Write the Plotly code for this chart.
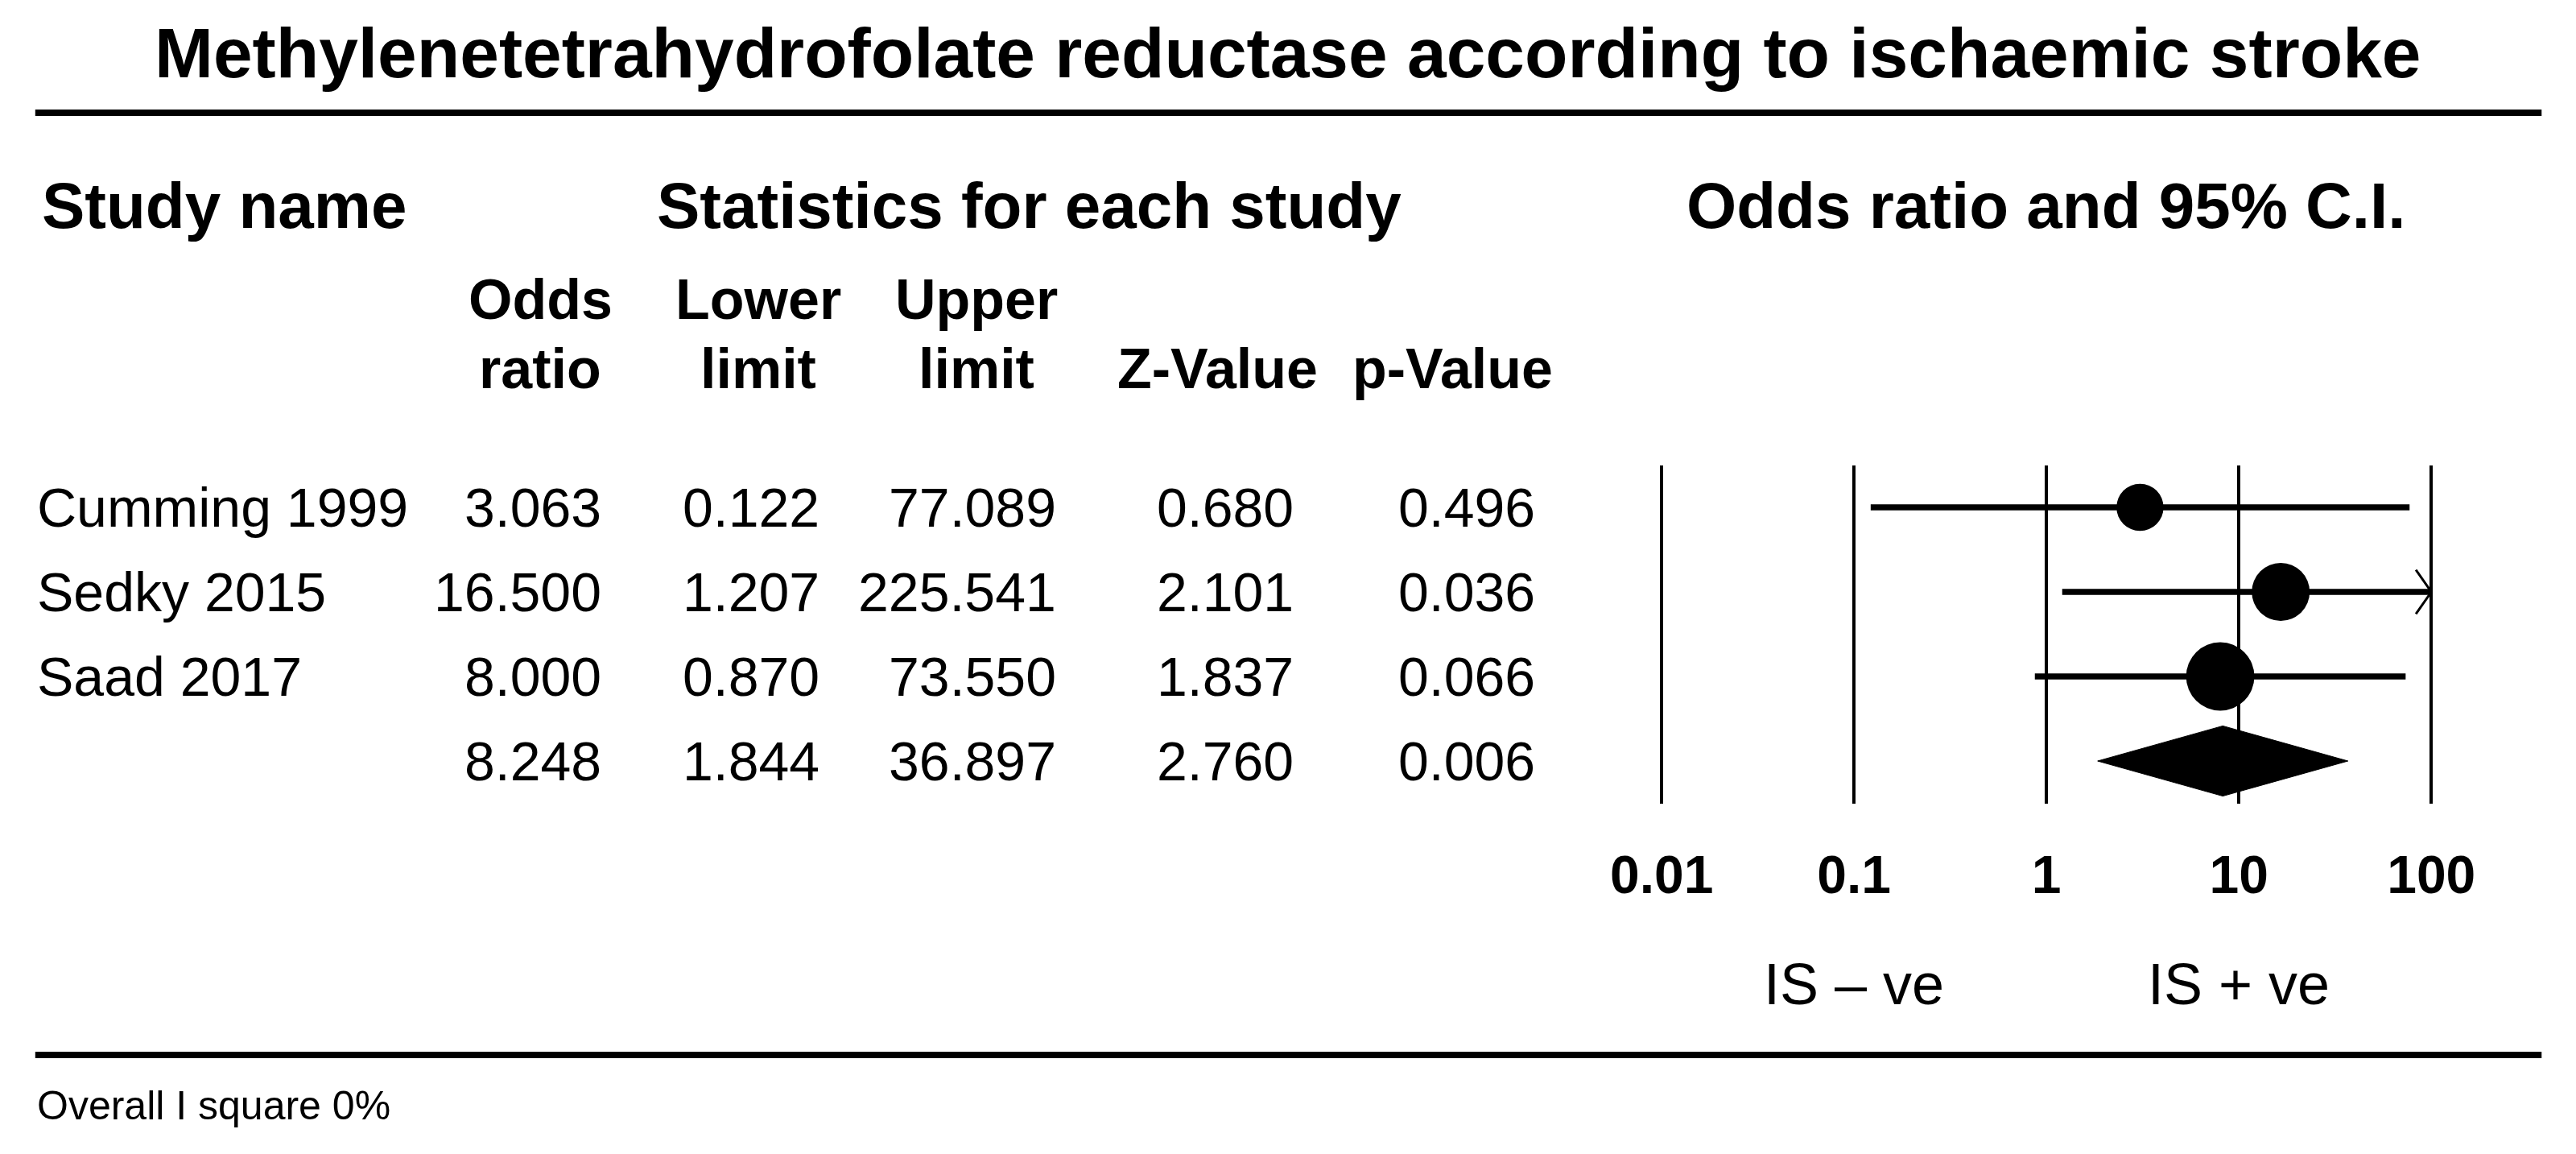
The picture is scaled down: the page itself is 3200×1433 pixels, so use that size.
import math
import plotly.graph_objects as go

# ---------------- data ----------------
title_text = "Methylenetetrahydrofolate reductase according to ischaemic stroke"
studies = ["Cumming 1999", "Sedky 2015", "Saad 2017"]
odds_ratio = [3.063, 16.500, 8.000]
lower_limit = [0.122, 1.207, 0.870]
upper_limit = [77.089, 225.541, 73.550]
z_values = [0.680, 2.101, 1.837]
p_values = [0.496, 0.036, 0.066]

pooled_or = 8.248
pooled_lower = 1.844
pooled_upper = 36.897
pooled_z = 2.760
pooled_p = 0.006

tick_vals = [0.01, 0.1, 1, 10, 100]
tick_text = ["0.01", "0.1", "1", "10", "100"]
favours_labels = ["IS \u2013 ve", "IS + ve"]
favours_at = [0.1, 10]
footnote = "Overall I square 0%"

section_headers = ["Study name", "Statistics for each study", "Odds ratio and 95% C.I."]
col_head_top = ["Odds", "Lower", "Upper", "", ""]
col_head_bottom = ["ratio", "limit", "limit", "Z-Value", "p-Value"]

# ---------------- layout helpers ----------------
W, H = 3200, 1433
FONT = "Liberation Sans"


def px(x):
    return x / W


def py(y):
    return 1 - y / H


x_lo_log, x_hi_log = -2.2, 2.2
dec_px = 240.75
x_left_px = 2063 - (-2 - x_lo_log) * dec_px
x_right_px = 3026 + (x_hi_log - 2) * dec_px
row_top_px, row_bottom_px = 577.5, 997.5

fig = go.Figure()

# per-study weights (inverse variance) -> marker size
weights = []
for lo, up in zip(lower_limit, upper_limit):
    se = (math.log(up) - math.log(lo)) / (2 * 1.96)
    weights.append(1 / se ** 2)
sizes = [96 * math.sqrt(w) for w in weights]

x_max = tick_vals[-1]
for i, (o, lo, up) in enumerate(zip(odds_ratio, lower_limit, upper_limit)):
    fig.add_trace(go.Scatter(x=[lo, min(up, x_max)], y=[i, i], mode="lines",
                             line=dict(color="black", width=7.5), hoverinfo="skip",
                             showlegend=False))
    if up > x_max:
        back = 10 ** (math.log10(x_max) - 0.08)
        fig.add_trace(go.Scatter(x=[back, x_max, back], y=[i - 0.26, i, i + 0.26],
                                 mode="lines", line=dict(color="black", width=3),
                                 hoverinfo="skip", showlegend=False))

fig.add_trace(go.Scatter(x=odds_ratio, y=list(range(len(studies))), mode="markers",
                         marker=dict(color="black", size=sizes, symbol="circle",
                                     opacity=1, line=dict(width=0)),
                         opacity=1, cliponaxis=False, showlegend=False, hoverinfo="skip"))

# pooled diamond
pr = len(studies)
h = 0.415
fig.add_trace(go.Scatter(x=[pooled_lower, pooled_or, pooled_upper, pooled_or, pooled_lower],
                         y=[pr, pr - h, pr, pr + h, pr], mode="lines", fill="toself",
                         fillcolor="black", line=dict(color="black", width=1),
                         showlegend=False, hoverinfo="skip"))

annotations = []


def add_text(text, x, y, size, bold=False, xanchor="left", yref="paper"):
    annotations.append(dict(text=text, x=x, y=y, xref="paper", yref=yref,
                            xanchor=xanchor, yanchor="middle", showarrow=False,
                            font=dict(family=FONT, size=size, color="black",
                                      weight="bold" if bold else "normal")))


# title
add_text(title_text, px(1595), py(66), 87.5, bold=True, xanchor="center")
# section headers
add_text(section_headers[0], px(34), py(256), 80, bold=True)
add_text(section_headers[1], px(804), py(256), 80, bold=True)
add_text(section_headers[2], px(2544), py(256), 80, bold=True, xanchor="center")

# column headers
col_centers = [660, 933, 1206, 1507, 1801]
for c, t1, t2 in zip(col_centers, col_head_top, col_head_bottom):
    if t1:
        add_text(t1, px(c), py(372), 70, bold=True, xanchor="center")
    add_text(t2, px(c), py(458), 70, bold=True, xanchor="center")

# table rows
col_rights = [738, 1011, 1307, 1605, 1907]
rows = list(zip(odds_ratio, lower_limit, upper_limit, z_values, p_values))
rows.append((pooled_or, pooled_lower, pooled_upper, pooled_z, pooled_p))
names = studies + [""]
for i, (name, vals) in enumerate(zip(names, rows)):
    if name:
        add_text(name, px(28), i, 68, xanchor="left", yref="y")
    for c, v in zip(col_rights, vals):
        add_text(f"{v:.3f}", px(c), i, 68, xanchor="right", yref="y")

# favours labels (under the log axis)
for lab, at in zip(favours_labels, favours_at):
    xp = px(2063 + (math.log10(at) + 2) * dec_px)
    add_text(lab, xp, py(1222), 72, xanchor="center")

# footnote
add_text(footnote, px(28), py(1373), 50)

shapes = [
    dict(type="line", xref="paper", yref="paper", x0=px(28), x1=px(3164),
         y0=py(140), y1=py(140), line=dict(color="black", width=8)),
    dict(type="line", xref="paper", yref="paper", x0=px(28), x1=px(3164),
         y0=py(1310), y1=py(1310), line=dict(color="black", width=8)),
]

fig.update_layout(
    width=W, height=H, margin=dict(l=0, r=0, t=0, b=0),
    paper_bgcolor="white", plot_bgcolor="white",
    showlegend=False,
    annotations=annotations, shapes=shapes,
    xaxis=dict(type="log", range=[x_lo_log, x_hi_log],
               domain=[px(x_left_px), px(x_right_px)],
               tickvals=tick_vals, ticktext=tick_text,
               showgrid=True, gridcolor="black", gridwidth=4,
               zeroline=False, showline=False, ticks="",
               ticklabelstandoff=44,
               tickfont=dict(family=FONT, size=66, color="black", weight="bold"),
               fixedrange=True),
    yaxis=dict(range=[len(studies) + 0.5, -0.5],
               domain=[py(row_bottom_px), py(row_top_px)],
               showgrid=False, zeroline=False, showline=False,
               showticklabels=False, ticks="", fixedrange=True),
)

fig.write_html("out.html",
               config={"displayModeBar": False, "staticPlot": True},
               post_script="document.body.style.margin='0';document.body.style.overflow='hidden';")
